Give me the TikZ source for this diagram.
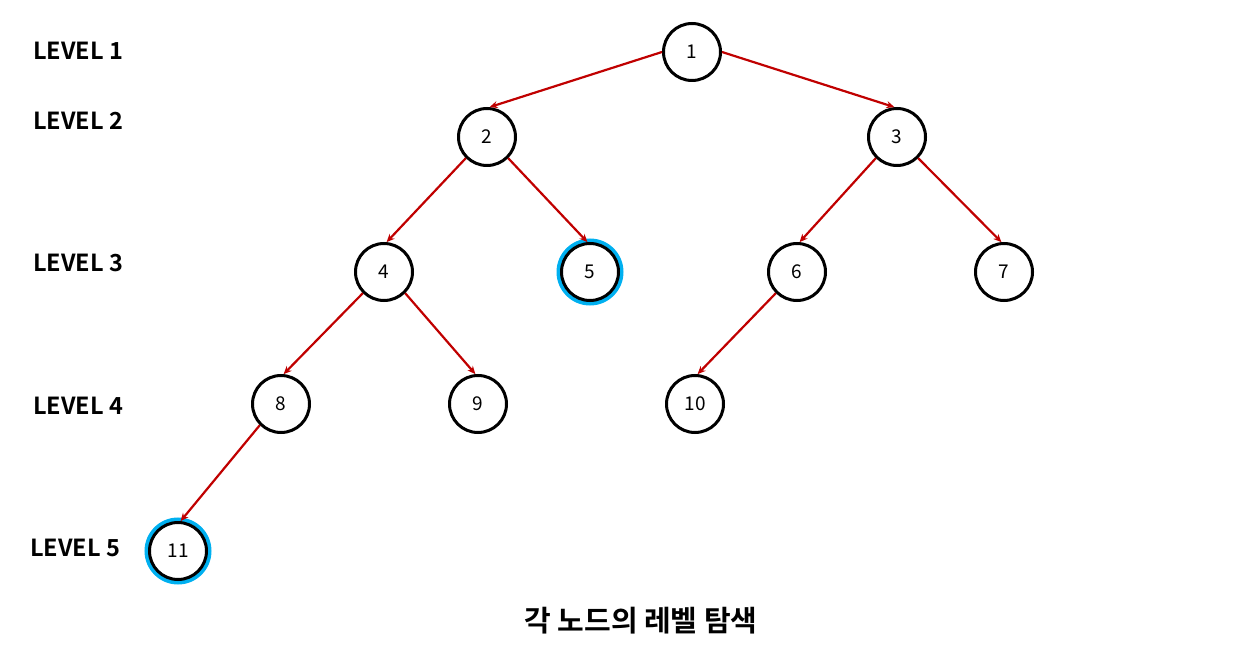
\documentclass[tikz,border=0pt]{standalone}
\usepackage{fontspec}
\setmainfont{Noto Sans CJK KR}[BoldFont={Noto Sans CJK KR Bold}]
\usetikzlibrary{arrows.meta}

\definecolor{edgered}{RGB}{192,0,0}
\definecolor{ringblue}{RGB}{0,176,240}

\begin{document}
\begin{tikzpicture}[x=1pt, y=-1pt, >={Stealth[length=8pt,width=7pt]},
  tnode/.style={circle, draw=black, line width=3pt, fill=white, minimum size=57pt, inner sep=0pt, font=\fontsize{19}{19}\selectfont},
  found/.style={draw=ringblue, line width=4pt},
  link/.style={->, draw=edgered, line width=2.2pt},
  levellabel/.style={font=\bfseries\fontsize{23.5}{23.5}\selectfont}]
\useasboundingbox (0,0) rectangle (1237,668);
% level labels
\node[levellabel] (lv1) at (78,51) {LEVEL 1};
\node[levellabel] (lv2) at (78,121) {LEVEL 2};
\node[levellabel] (lv3) at (78,263) {LEVEL 3};
\node[levellabel] (lv4) at (78,406) {LEVEL 4};
\node[levellabel] (lv5) at (75,548) {LEVEL 5};
% blue rings behind the found nodes
\draw[found] (590,272) circle (31.5pt);
\draw[found] (178,551) circle (31.5pt);
% tree nodes
\node[tnode] (n1) at (692,52) {1};
\node[tnode] (n2) at (487,137) {2};
\node[tnode] (n3) at (897,137) {3};
\node[tnode] (n4) at (384,272) {4};
\node[tnode] (n5) at (590,272) {5};
\node[tnode] (n6) at (797,272) {6};
\node[tnode] (n7) at (1004,272) {7};
\node[tnode] (n8) at (281,404) {8};
\node[tnode] (n9) at (478,404) {9};
\node[tnode] (n10) at (695,404) {10};
\node[tnode] (n11) at (178,551) {11};
% edges
\draw[link] (n1.west) -- (n2.85);
\draw[link] (n1.east) -- (n3.95);
\draw[link] (n2.225) -- (n4.85);
\draw[link] (n2.315) -- (n5.95);
\draw[link] (n3.225) -- (n6.85);
\draw[link] (n3.315) -- (n7.95);
\draw[link] (n4.225) -- (n8.85);
\draw[link] (n4.315) -- (n9.95);
\draw[link] (n6.225) -- (n10.85);
\draw[link] (n8.225) -- (n11.85);
% caption
\node[font=\bfseries\fontsize{29}{29}\selectfont] (title) at (641,621) {각 노드의 레벨 탐색};
\end{tikzpicture}
\end{document}
